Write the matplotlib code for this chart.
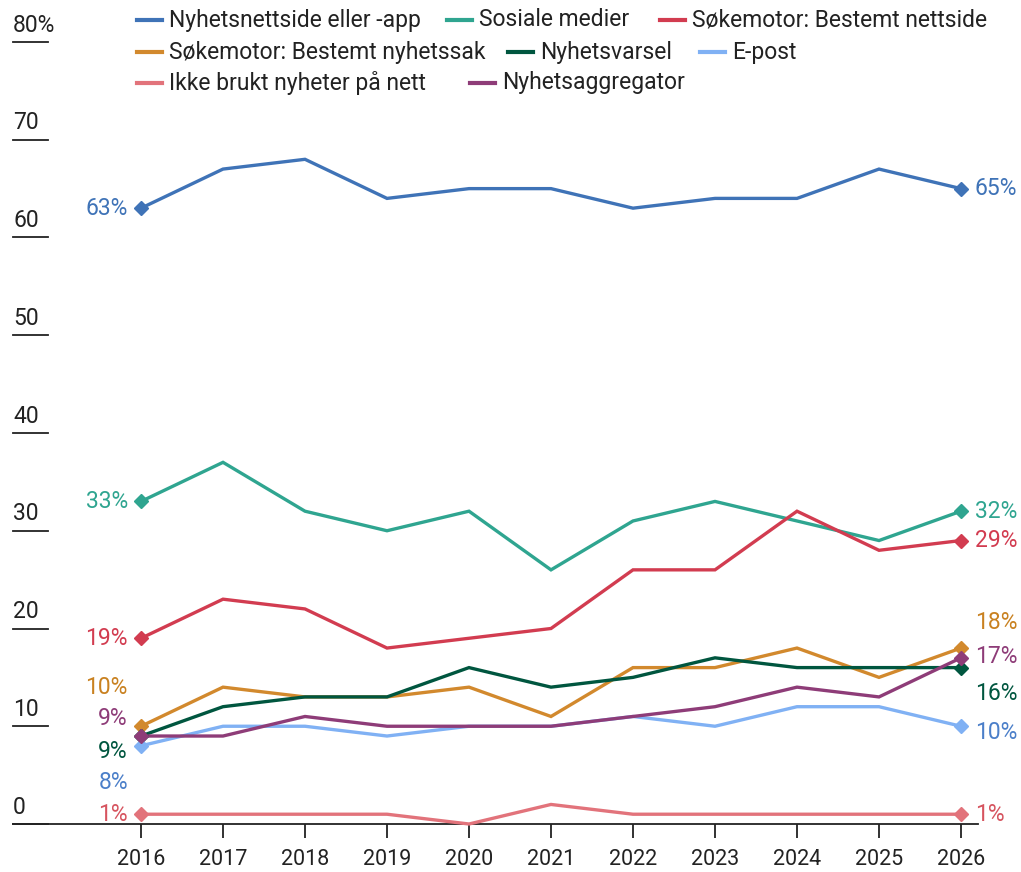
import matplotlib
matplotlib.use("Agg")
import matplotlib.pyplot as plt
from matplotlib.lines import Line2D

plt.rcParams['font.family'] = ['Roboto', 'DejaVu Sans']

years = list(range(2016, 2027))

series_names = [
    "Nyhetsnettside eller -app",
    "Sosiale medier",
    "Søkemotor: Bestemt nettside",
    "Søkemotor: Bestemt nyhetssak",
    "Nyhetsvarsel",
    "E-post",
    "Ikke brukt nyheter på nett",
    "Nyhetsaggregator",
]

nyhetsnettside = [63, 67, 68, 64, 65, 65, 63, 64, 64, 67, 65]
sosiale_medier = [33, 37, 32, 30, 32, 26, 31, 33, 31, 29, 32]
sok_nettside = [19, 23, 22, 18, 19, 20, 26, 26, 32, 28, 29]
sok_nyhetssak = [10, 14, 13, 13, 14, 11, 16, 16, 18, 15, 18]
nyhetsvarsel = [9, 12, 13, 13, 16, 14, 15, 17, 16, 16, 16]
epost = [8, 10, 10, 9, 10, 10, 11, 10, 12, 12, 10]
ikke_brukt = [1, 1, 1, 1, 0, 2, 1, 1, 1, 1, 1]
aggregator = [9, 9, 11, 10, 10, 10, 11, 12, 14, 13, 17]

all_values = [nyhetsnettside, sosiale_medier, sok_nettside, sok_nyhetssak,
              nyhetsvarsel, epost, ikke_brukt, aggregator]

line_colors = ["#3f73b7", "#2fa590", "#d23c50", "#d2892d",
               "#00563f", "#80b1f4", "#e2737b", "#8e3c78"]
label_colors = ["#3f73b7", "#2fa590", "#d23c50", "#c98120",
                "#00563f", "#4b7fc9", "#d6545f", "#8e3c78"]

# label y-positions (data units) for endpoint labels, nudged to avoid overlap
left_label_y = [63, 33, 19, 14, 7.4, 4.2, 1, 10.8]
right_label_y = [65, 32, 29, 20.6, 13.4, 9.4, 1, 17.1]

W, H = 1021, 872
fig = plt.figure(figsize=(W / 100, H / 100), dpi=100)

px_per_unit = 9.775
ax_left, ax_right = 13, 978
ax_bottom, ax_top = 824, 30
ax = fig.add_axes([ax_left / W, (H - ax_bottom) / H,
                   (ax_right - ax_left) / W, (ax_bottom - ax_top) / H])
x0_px, px_per_year = 141, 82
ax.set_xlim(2016 + (ax_left - x0_px) / px_per_year,
            2016 + (ax_right - x0_px) / px_per_year)
ax.set_ylim(0, (ax_bottom - ax_top) / px_per_unit)

for vals, col in zip(all_values, line_colors):
    ax.plot(years, vals, color=col, lw=2.4, solid_joinstyle='miter', clip_on=False, zorder=3)
    ax.plot([years[0], years[-1]], [vals[0], vals[-1]], ls='none', marker='D',
            ms=7.5, color=col, clip_on=False, zorder=4)

for vals, col, ly, ry in zip(all_values, label_colors, left_label_y, right_label_y):
    ax.text(years[0] - 0.16, ly, f"{vals[0]}%", color=col, fontsize=16.5,
            ha='right', va='center')
    ax.text(years[-1] + 0.17, ry, f"{vals[-1]}%", color=col, fontsize=16.5,
            ha='left', va='center')

# y ticks: short lines with labels above
yticks = [0, 10, 20, 30, 40, 50, 60, 70, 80]
for v in yticks:
    ax.plot([0, 35 / (ax_right - ax_left)], [v, v], color="#222222", lw=1.3,
            transform=ax.get_yaxis_transform(), clip_on=False)
    ax.text(0, v + 0.55, f"{v}%" if v == 80 else str(v), color="#222222",
            fontsize=16.5, ha='left', va='bottom', transform=ax.get_yaxis_transform())

ax.set_yticks([])
for s in ['left', 'right', 'top']:
    ax.spines[s].set_visible(False)
ax.spines['bottom'].set_color("#222222")
ax.spines['bottom'].set_linewidth(1.3)
ax.set_xticks(years)
ax.set_xticklabels([str(y) for y in years])
ax.tick_params(axis='x', direction='out', length=10, width=1.3, color="#222222",
               pad=8, labelsize=15.5, labelcolor="#222222")

# legend, flowing layout
legend_pos = [(137, 20), (447, 20), (660, 20),
              (137, 52), (508, 52), (700, 52),
              (137, 83), (470, 83)]
for name, col, (lx, ly) in zip(series_names, line_colors, legend_pos):
    yf = 1 - ly / H
    fig.add_artist(Line2D([lx / W, (lx + 25) / W], [yf, yf], color=col, lw=3,
                          transform=fig.transFigure))
    fig.text((lx + 32) / W, yf, name, color="#222222", fontsize=16.5,
             ha='left', va='center')

fig.savefig("out.png", dpi=100)
